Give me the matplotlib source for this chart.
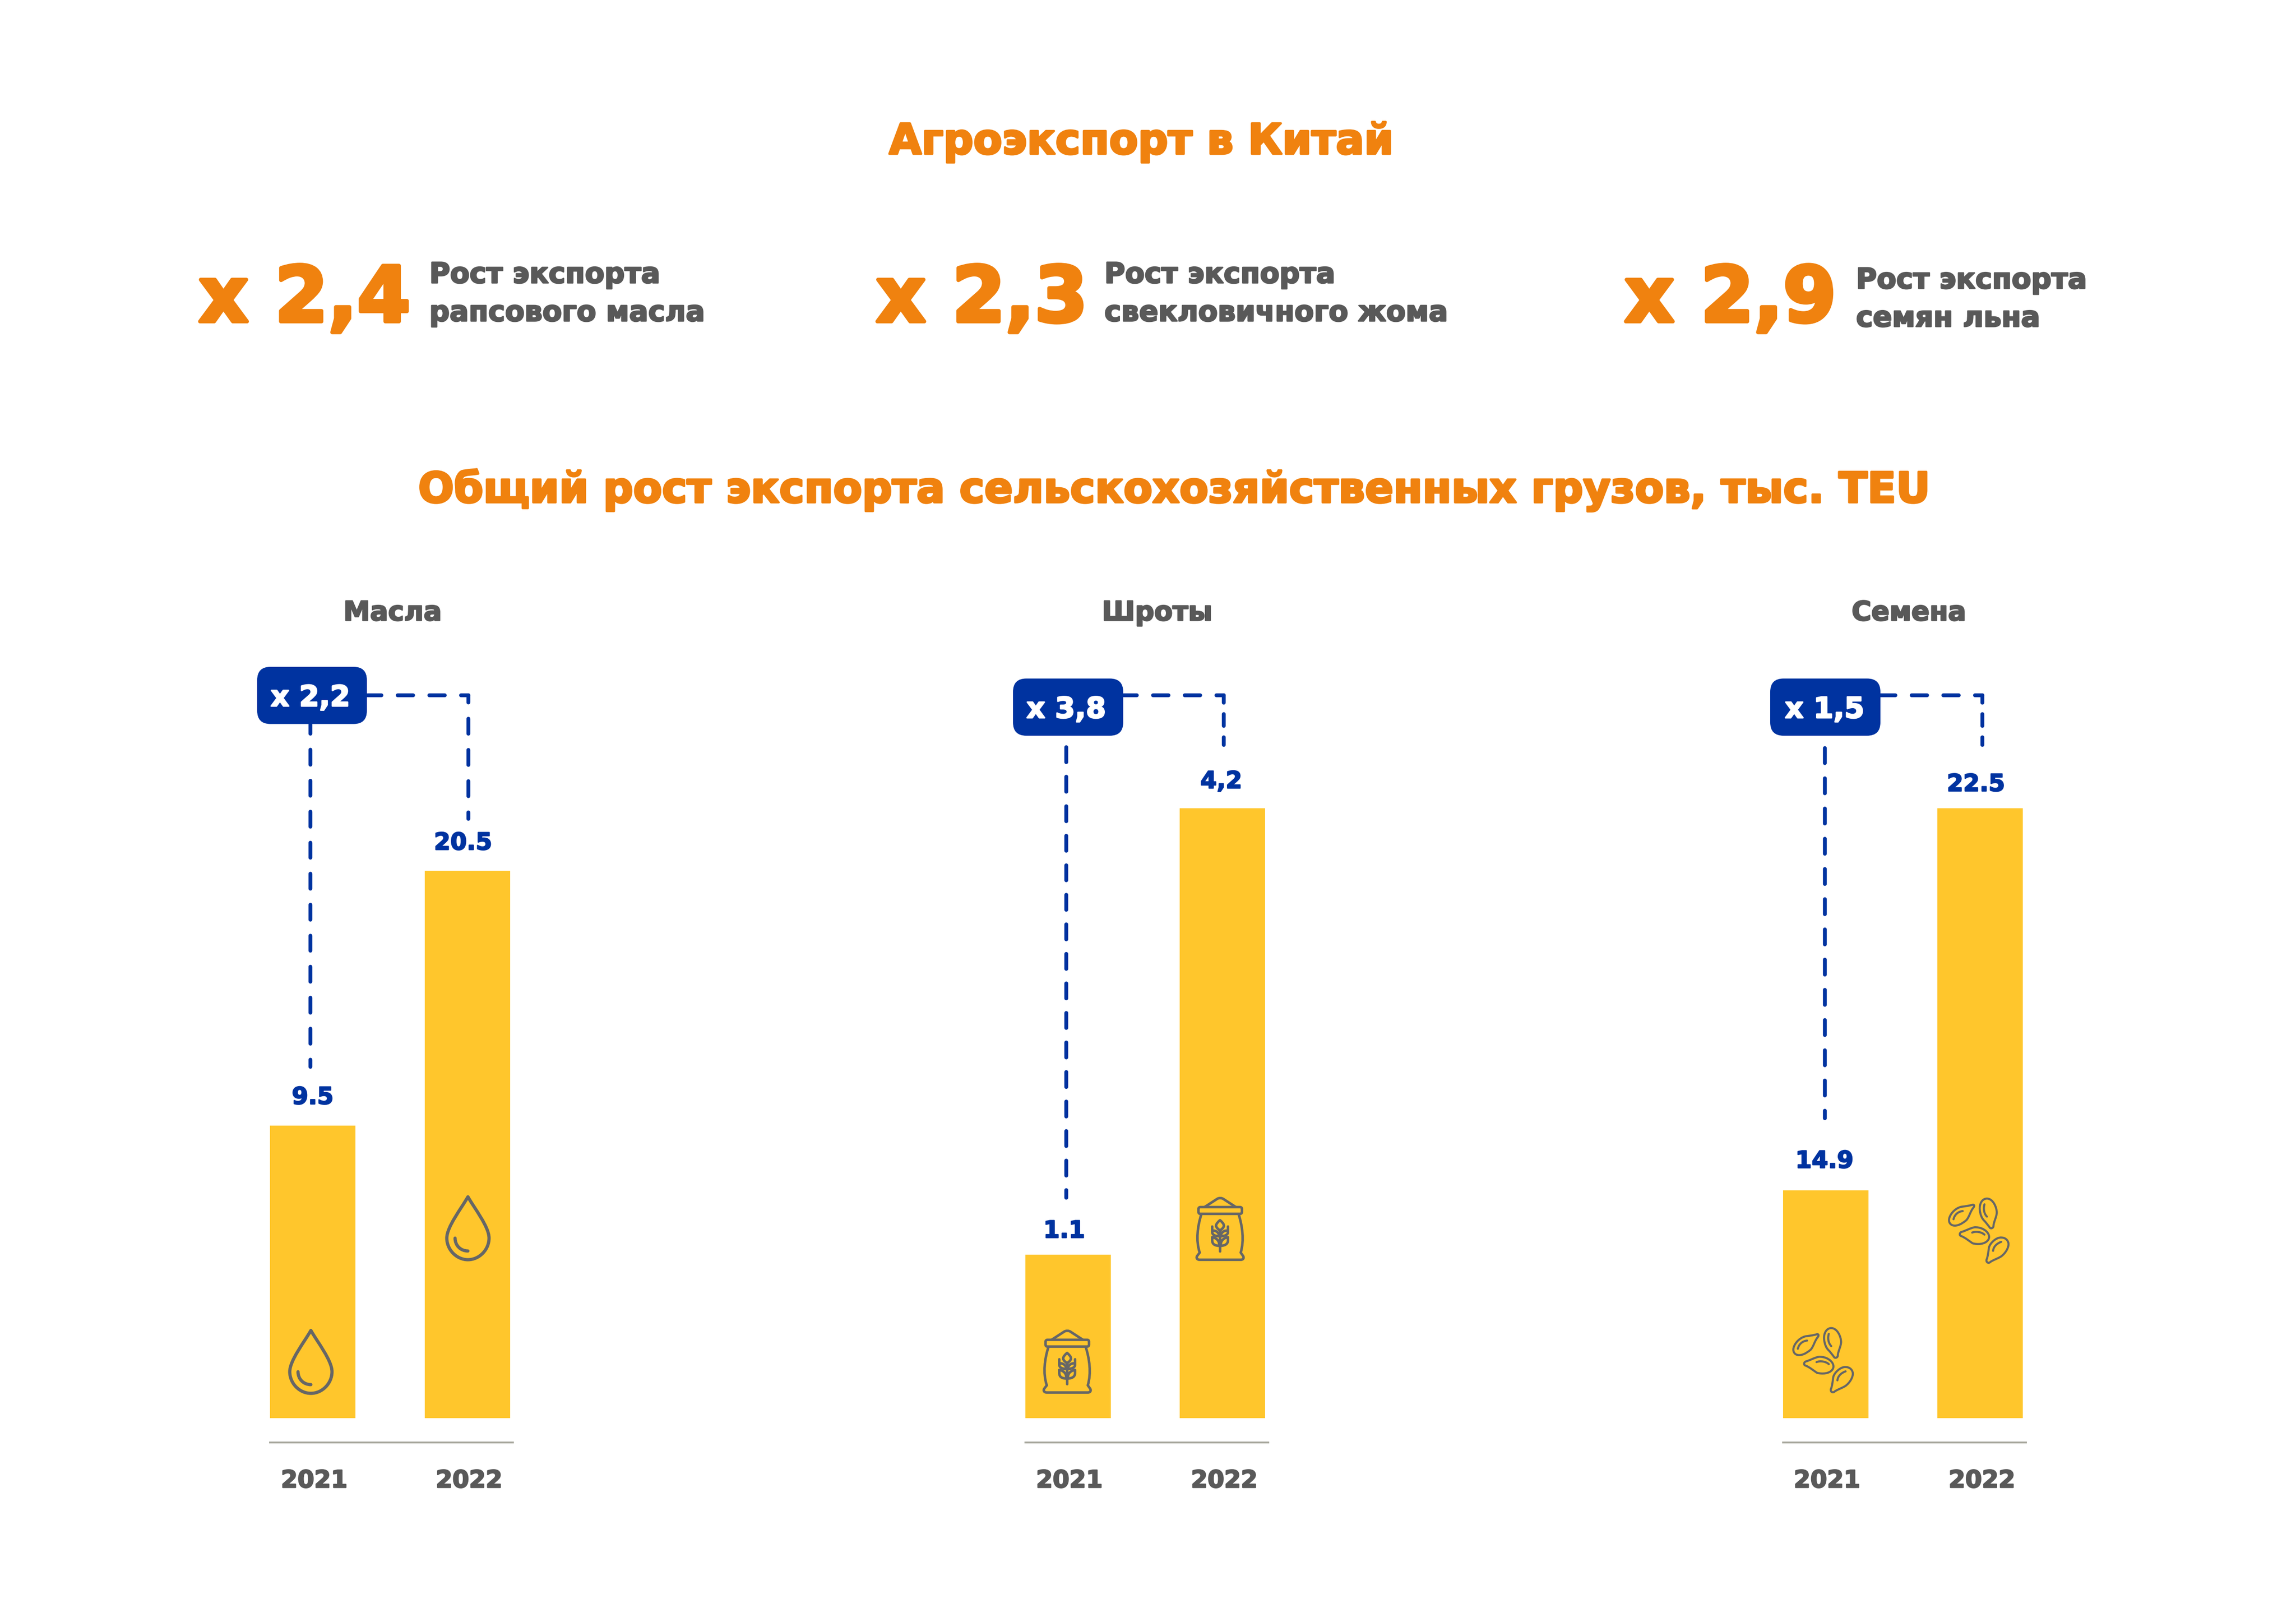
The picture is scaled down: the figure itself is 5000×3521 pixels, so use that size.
#!/usr/bin/env python
import matplotlib
matplotlib.use('Agg')
import matplotlib.pyplot as plt
import matplotlib.patheffects as pe
from matplotlib.lines import Line2D
from matplotlib.patches import FancyBboxPatch, PathPatch
from matplotlib.path import Path
from matplotlib.transforms import Affine2D

W, H = 5000, 3521
DPI = 300

ORANGE = '#F0820F'
GREY = '#595959'
BLUE = '#0033A0'
YELLOW = '#FFC62C'
ICON = '#666666'
AXIS = '#A6A69C'

plt.rcParams['font.family'] = ['DejaVu Sans']
plt.rcParams['font.weight'] = 'bold'

title = 'Агроэкспорт в Китай'
subtitle = 'Общий рост экспорта сельскохозяйственных грузов, тыс. TEU'

kpi_labels = ['x 2,4', 'x 2,3', 'x 2,9']
kpi_texts = [('Рост экспорта', 'рапсового масла'),
             ('Рост экспорта', 'свекловичного жома'),
             ('Рост экспорта', 'семян льна')]

years = ['2021', '2022']
panel_names = ['Масла', 'Шроты', 'Семена']
panel_growth = ['x 2,2', 'x 3,8', 'x 1,5']
oil_values = [9.5, 20.5]
meal_values = [1.1, 4.2]
seed_values = [14.9, 22.5]
oil_labels = ['9.5', '20.5']
meal_labels = ['1.1', '4,2']
seed_labels = ['14.9', '22.5']

# the picture's bars are not on one scale, each panel has its own y range
panel_ylims = [(-3.126, 32.315), (-0.0356, 5.668), (10.369, 26.702)]

# layout, in pixels of the final image
kpi_x = [433, 1908, 3538]
kpi_text_x = [935, 2405, 4042]
kpi_text_y = [616, 616, 628]
axes_left = [588, 2232.5, 3882.5]
name_x = [855, 2520, 4157]
badge_left = [560, 2206, 3855]
badge_top = [1452, 1477.5, 1477.5]
badge_w = [239, 240, 240]
drop_x = [676, 2322, 3973.5]
drop_start = [1560.5, 1623, 1625]
drop_end = [2327, 2612.5, 2439]
drop_period = [67.5, 64.3, 65.8]
elbow_start = [793, 2438, 4090]
elbow_x = [1020, 2665, 4317]
elbow_end = [1787, 1626, 1626]
elbow_period = [68, 50.5, 50.5]
elbow_dash = [41, 34, 34]
elbow_phase = [17, 9.5, 9.5]
label_dx = [(0, -9), (-8, -2.5), (-2.5, -9)]
label_gap = [(47, 46), (37, 44), (49, 37.5)]
icon_pos = [[(631, 2897), (973, 2606)],
            [(2272, 2896), (2605, 2607)],
            [(3904, 2891), (4243, 2609)]]

DROP = ['M 46,0 C 60,25 92,65 92,90 C 92,115 71,137 46,137 C 21,137 0,115 0,90 C 0,65 32,25 46,0 Z',
        'M 18,90 C 18,106 30,118 46,118']

SACK = ['M 293,823 L 487,823 C 493,823 496,827 496,831 L 496,847 C 496,853 492,856 487,856 '
        'L 293,856 C 288,856 284,853 284,847 L 284,831 C 284,827 288,823 293,823 Z',
        'M 315,822 L 372,785 C 382,777 398,777 408,785 L 465,822',
        'M 298,858 C 280,915 270,985 290,1045 L 277,1062 C 272,1072 278,1080 290,1080 L 490,1080 '
        'C 502,1080 507,1072 502,1062 L 490,1045 C 508,985 498,915 480,858',
        'M 389,1040 L 389,935',
        'M 389,887 C 380,895 370,903 370,915 C 372,925 382,932 389,938 C 396,932 406,925 408,915 '
        'C 408,903 398,895 389,887 Z',
        'M 351,918 L 351,945 C 351,958 365,965 385,965 C 385,950 372,938 358,938',
        'M 428,918 L 428,945 C 428,958 412,965 393,965 C 393,950 406,938 420,938',
        'M 351,970 L 351,985 C 351,1005 365,1012 389,1012 C 410,1012 428,1005 428,985 L 428,970 '
        'C 410,972 393,985 393,1005',
        'M 351,970 C 368,972 385,985 385,1005']

SEEDS = ['M 240,797 C 220,803 200,805 185,807 C 150,815 125,850 125,872 C 125,900 160,915 210,872 '
         'C 225,855 228,830 245,810 C 252,800 245,795 240,797 Z',
         'M 147,868 C 152,845 170,830 192,828',
         'M 310,767 C 285,767 273,795 275,820 C 277,845 285,865 300,878 C 310,890 318,900 325,910 '
         'C 332,915 342,910 342,900 C 343,880 358,855 358,835 C 358,810 340,767 310,767 Z',
         'M 298,795 C 292,815 295,840 310,855',
         'M 185,930 C 175,935 175,948 185,950 C 205,958 225,975 240,985 C 265,992 300,990 315,970 '
         'C 335,945 300,905 250,907 C 230,910 205,925 185,930 Z',
         'M 238,933 C 255,925 285,930 298,943',
         'M 380,957 C 355,955 325,985 320,1005 C 317,1025 315,1050 308,1065 C 305,1080 320,1085 328,1075 '
         'C 345,1065 365,1058 378,1050 C 400,1035 418,1005 415,985 C 412,968 398,957 380,957 Z',
         'M 340,1022 C 342,1000 360,985 380,978']

ICONS = [(DROP, (0, 0), 1.0, 7), (SACK, (273, 775), 1 / 2.24, 5.5), (SEEDS, (122, 765), 1 / 2.24, 4.5)]

DASH_LW = 8.4


def pt(px_size):
    return px_size * 72 / DPI


def heavier(size, color):
    # the source font is heavier and taller than DejaVu Bold at the same width
    return [pe.withStroke(linewidth=size * 0.05, foreground=color)]


def svg_path(d):
    tokens = d.split()
    verts, codes = [], []
    i = 0
    while i < len(tokens):
        cmd = tokens[i]
        i += 1
        n = {'M': 1, 'L': 1, 'C': 3, 'Z': 0}[cmd]
        code = {'M': Path.MOVETO, 'L': Path.LINETO, 'C': Path.CURVE4}.get(cmd)
        for tok in tokens[i:i + n]:
            verts.append([float(v) for v in tok.split(',')])
            codes.append(code)
        i += n
        if cmd == 'Z':
            verts.append(verts[-1])
            codes.append(Path.CLOSEPOLY)
    return Path(verts, codes)


fig = plt.figure(figsize=(W / DPI, H / DPI), dpi=DPI, facecolor='white')
px = Affine2D().scale(1 / W, -1 / H).translate(0, 1) + fig.transFigure


def draw_icon(parts, origin, scale, lw, x, y):
    tr = Affine2D().translate(-origin[0], -origin[1]).scale(scale).translate(x, y) + px
    for d in parts:
        fig.add_artist(PathPatch(svg_path(d), transform=tr, fc='none', ec=ICON, lw=pt(lw),
                                 capstyle='round', joinstyle='round', zorder=3))


def dashed(xs, ys, period, visible, phase=0):
    # period, visible length (with caps) and phase in px; dash units are line widths
    on = (visible - DASH_LW) / DASH_LW
    off = period / DASH_LW - on
    fig.add_artist(Line2D(xs, ys, transform=px, color=BLUE, lw=pt(DASH_LW),
                          linestyle=(phase / DASH_LW, (on, off)),
                          dash_capstyle='round', dash_joinstyle='round', zorder=3))


def label(x, y, s, size, color, ha='left', va='baseline', zorder=5):
    fig.text(x, y, s, transform=px, fontsize=size, color=color, ha=ha, va=va, zorder=zorder,
             path_effects=heavier(size, color))


label(2485, 335, title, 21.9, ORANGE, ha='center')
label(2555, 1094, subtitle, 21.95, ORANGE, ha='center')

for i, k in enumerate(kpi_labels):
    label(kpi_x[i], 700, k, 40, ORANGE)
    label(kpi_text_x[i], kpi_text_y[i], kpi_texts[i][0], 14.8, GREY)
    label(kpi_text_x[i], kpi_text_y[i] + 83, kpi_texts[i][1], 14.8, GREY)

AX_BOTTOM, AX_HEIGHT, AX_WIDTH = 3088, 1788, 529
UNIT = 336.5  # px between the two bars of a panel
BAR_W = 186

panel_values = [oil_values, meal_values, seed_values]
panel_labels = [oil_labels, meal_labels, seed_labels]

for p, values in enumerate(panel_values):
    ax = fig.add_axes([axes_left[p] / W, 1 - AX_BOTTOM / H, AX_WIDTH / W, AX_HEIGHT / H])
    ax.patch.set_visible(False)
    x0 = (BAR_W / 2) / UNIT
    ax.set_xlim(-x0, AX_WIDTH / UNIT - x0)
    base, top = panel_ylims[p]
    ax.set_ylim(base, top)
    heights = [v - base for v in values]
    ax.bar(range(2), heights, bottom=base, width=BAR_W / UNIT, color=YELLOW, linewidth=0)

    for s in ['top', 'left', 'right']:
        ax.spines[s].set_visible(False)
    ax.spines['bottom'].set_position(('outward', pt(53)))
    ax.spines['bottom'].set_color(AXIS)
    ax.spines['bottom'].set_linewidth(pt(4))
    ax.set_yticks([])
    ax.set_xticks([0.01, 1.012], years)
    ax.tick_params(axis='x', length=0, pad=pt(59), labelsize=12.5, labelcolor=GREY)
    for tick_label in ax.get_xticklabels():
        tick_label.set_path_effects(heavier(12.5, GREY))

    for j, v in enumerate(values):
        ax.annotate(panel_labels[p][j], xy=(j, v), xytext=(pt(label_dx[p][j]), pt(label_gap[p][j])),
                    textcoords='offset points', ha='center', va='baseline', fontsize=12.3,
                    color=BLUE, annotation_clip=False, path_effects=heavier(12.3, BLUE))

    label(name_x[p], 1351, panel_names[p], 14, GREY, ha='center')

    # growth badge with its dashed connectors
    b_left, b_top, b_w = badge_left[p], badge_top[p], badge_w[p]
    dashed([elbow_start[p] + DASH_LW / 2, elbow_x[p]], [1514, 1514], 69, 42)
    dashed([elbow_x[p], elbow_x[p]], [1514, elbow_end[p] - DASH_LW / 2], elbow_period[p], elbow_dash[p],
           phase=elbow_phase[p])
    dashed([drop_x[p], drop_x[p]], [drop_start[p] + DASH_LW / 2, drop_end[p] - DASH_LW / 2], drop_period[p], 41)
    fig.add_artist(FancyBboxPatch((b_left + 29, b_top + 29), b_w - 58, 124.5 - 58, transform=px,
                                  boxstyle='round,pad=29,rounding_size=29', fc=BLUE, ec='none', zorder=4))
    label(drop_x[p], b_top + 85.5, panel_growth[p], 15, 'white', ha='center')

    parts, origin, scale, lw = ICONS[p]
    for x, y in icon_pos[p]:
        draw_icon(parts, origin, scale, lw, x, y)

fig.savefig('out.png', dpi=DPI)
